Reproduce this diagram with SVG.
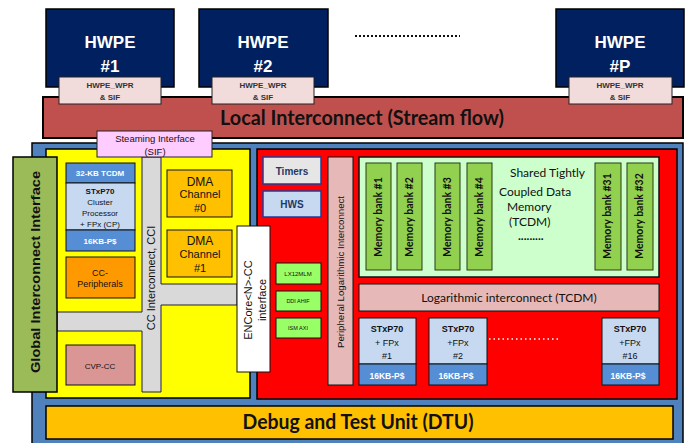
<svg xmlns="http://www.w3.org/2000/svg" width="690" height="443" viewBox="0 0 690 443">
  <defs>
    <style>
      .bd { stroke: #000; stroke-width: 1.5; }
      .thin { stroke: #1a1a1a; stroke-width: 1; }
      .t { font-family: "Liberation Sans", Arial, sans-serif; text-anchor: middle; }
      .c { font-family: Lato, "Liberation Sans", sans-serif; text-anchor: middle; }
      .b { font-weight: bold; }
      .w { fill: #fff; }
      .dk { fill: #111; }
      .nv { fill: #1F3864; }
      .bank { fill: #92D050; stroke: #2a3a10; stroke-width: 1; }
      .bankt { font-family: Lato, "Liberation Sans", sans-serif; font-weight: bold; font-size: 10.5px; fill: #111; text-anchor: middle; }
      .pe { fill: #C6D9F1; stroke: #111; stroke-width: 1; }
      .pc { fill: #558ED5; stroke: #111; stroke-width: 1; }
      .wpr { fill: #F2DCDB; stroke: #222; stroke-width: 1; }
      .hwpe { fill: #002060; stroke: #000; stroke-width: 1.5; }
      .sg { fill: #99FF66; stroke: #111; stroke-width: 1; }
      .per { fill: #1F3D99; }
    </style>
  </defs>

  <!-- hardware processing engines -->
  <g id="hwpe1">
    <rect class="hwpe" x="46" y="9" width="128" height="78"/>
    <text class="t b w" x="110" y="48" font-size="17">HWPE</text>
    <text class="t b w" x="110" y="72" font-size="17">#1</text>
  </g>
  <g id="hwpe2">
    <rect class="hwpe" x="199" y="9" width="129" height="78"/>
    <text class="t b w" x="263" y="48" font-size="17">HWPE</text>
    <text class="t b w" x="263" y="72" font-size="17">#2</text>
  </g>
  <g id="hwpe-dots">
    <line x1="355" y1="36" x2="460" y2="36" stroke="#111" stroke-width="2" stroke-dasharray="2,2"/>
  </g>
  <g id="hwpep">
    <rect class="hwpe" x="556" y="9" width="128" height="78"/>
    <text class="t b w" x="620" y="48" font-size="17">HWPE</text>
    <text class="t b w" x="620" y="72" font-size="17">#P</text>
  </g>

  <!-- local interconnect bar -->
  <g id="local-interconnect">
    <rect x="43" y="97" width="640" height="41" fill="#C0504D" stroke="#000" stroke-width="2"/>
    <text class="c b dk" x="362" y="125" font-size="20" textLength="284" lengthAdjust="spacingAndGlyphs">Local Interconnect (Stream flow)</text>
  </g>

  <!-- wrappers sit over the bar -->
  <g id="wpr1">
    <rect class="wpr" x="59" y="77" width="102" height="27"/>
    <text class="t b" x="110" y="88" font-size="8" fill="#333">HWPE_WPR</text>
    <text class="t b" x="110" y="100" font-size="8" fill="#333">&amp; SIF</text>
  </g>
  <g id="wpr2">
    <rect class="wpr" x="212" y="77" width="102" height="27"/>
    <text class="t b" x="263" y="88" font-size="8" fill="#333">HWPE_WPR</text>
    <text class="t b" x="263" y="100" font-size="8" fill="#333">&amp; SIF</text>
  </g>
  <g id="wprp">
    <rect class="wpr" x="569" y="77" width="103" height="27"/>
    <text class="t b" x="620" y="88" font-size="8" fill="#333">HWPE_WPR</text>
    <text class="t b" x="620" y="100" font-size="8" fill="#333">&amp; SIF</text>
  </g>

  <!-- cluster enclosure -->
  <g id="cluster">
    <rect x="32" y="143" width="651" height="304" fill="#4F81BD" stroke="#000" stroke-width="1.5"/>
  </g>

  <!-- control core area -->
  <g id="cc-area">
    <rect x="46" y="149" width="204" height="249" fill="#FFFF00" class="bd"/>
  </g>

  <!-- CC interconnect -->
  <g id="cc-interconnect">
    <path d="M142,157 H161 V284 H237 V305 H161 V392 H142 V331 H57 V312 H142 Z" fill="#D9D9D9" stroke="#222" stroke-width="1"/>
    <text class="t dk" x="0" y="0" font-size="11" transform="translate(155,278) rotate(-90)">CC Interconnect, CCI</text>
  </g>

  <g id="global-interconnect">
    <rect x="13" y="157" width="44" height="235" fill="#9BBB59" class="bd"/>
    <text class="t b dk" x="0" y="0" font-size="13" transform="translate(40,272) rotate(-90)" textLength="202" lengthAdjust="spacingAndGlyphs">Global Interconnect  Interface</text>
  </g>

  <g id="cp">
    <rect class="pc" x="66" y="163" width="69" height="20"/>
    <text class="t b w" x="100" y="176" font-size="8">32-KB TCDM</text>
    <rect class="pe" x="66" y="183" width="69" height="47"/>
    <text class="t b dk" x="100" y="194" font-size="8">STxP70</text>
    <text class="t dk" x="100" y="205" font-size="8">Cluster</text>
    <text class="t dk" x="100" y="216" font-size="8">Processor</text>
    <text class="t dk" x="100" y="227" font-size="8">+ FPx (CP)</text>
    <rect class="pc" x="66" y="230" width="69" height="21"/>
    <text class="t b w" x="100" y="244" font-size="8">16KB-P$</text>
  </g>

  <g id="cc-peripherals">
    <rect x="66" y="257" width="69" height="41" fill="#FF9900" stroke="#111" stroke-width="1"/>
    <text class="t dk" x="100" y="276" font-size="9">CC-</text>
    <text class="t dk" x="100" y="287" font-size="9">Peripherals</text>
  </g>

  <g id="cvp-cc">
    <rect x="66" y="345" width="69" height="40" fill="#D99694" stroke="#111" stroke-width="1"/>
    <text class="t dk" x="100" y="369" font-size="8">CVP-CC</text>
  </g>

  <g id="dma0">
    <rect x="167" y="170" width="65" height="47" fill="#FFC000" stroke="#111" stroke-width="1"/>
    <text class="t dk" x="200" y="186" font-size="12">DMA</text>
    <text class="t dk" x="200" y="198" font-size="11">Channel</text>
    <text class="t dk" x="200" y="212" font-size="11">#0</text>
  </g>
  <g id="dma1">
    <rect x="167" y="230" width="65" height="47" fill="#FFC000" stroke="#111" stroke-width="1"/>
    <text class="t dk" x="200" y="245" font-size="12">DMA</text>
    <text class="t dk" x="200" y="258" font-size="11">Channel</text>
    <text class="t dk" x="200" y="272" font-size="11">#1</text>
  </g>

  <!-- processing element area -->
  <g id="pe-area">
    <rect x="257" y="149" width="420" height="250" fill="#FF0000" class="bd"/>
  </g>

  <g id="encore-if">
    <rect x="237" y="226" width="33" height="146" fill="#fff" stroke="#111" stroke-width="1"/>
    <text class="t dk" x="0" y="0" font-size="11" transform="translate(252,300) rotate(-90)">ENCore&lt;N&gt;-CC</text>
    <text class="t dk" x="0" y="0" font-size="11" transform="translate(266,300) rotate(-90)">interface</text>
  </g>

  <g id="timers">
    <rect x="263" y="157" width="58" height="27" fill="#E6E6E6" stroke="#1F3D99" stroke-width="1.5"/>
    <text class="t b nv" x="292" y="175" font-size="10">Timers</text>
  </g>
  <g id="hws">
    <rect x="263" y="191" width="58" height="26" fill="#C6D9F1" stroke="#1F3D99" stroke-width="1.5"/>
    <text class="t b nv" x="292" y="208" font-size="10">HWS</text>
  </g>

  <g id="per-lx12">
    <rect class="sg" x="276" y="263" width="45" height="21"/>
    <text class="t dk" x="298" y="276" font-size="6">LX12MLM</text>
  </g>
  <g id="per-ddi">
    <rect class="sg" x="276" y="291" width="45" height="20"/>
    <text class="t dk" x="298" y="303" font-size="5.5">DDI AHIF</text>
  </g>
  <g id="per-ism">
    <rect class="sg" x="276" y="318" width="45" height="20"/>
    <text class="t dk" x="298" y="330" font-size="5.5">ISM AXI</text>
  </g>

  <g id="peripheral-interconnect">
    <rect x="328" y="157" width="25" height="228" fill="#E6B9B8" stroke="#111" stroke-width="1"/>
    <text class="t dk" x="0" y="0" font-size="9.5" transform="translate(344,272) rotate(-90)" textLength="152" lengthAdjust="spacingAndGlyphs">Peripheral Logarithmic Interconnect</text>
  </g>

  <g id="tcdm">
    <rect x="359" y="157" width="300" height="120" fill="#CCFFCC" stroke="#111" stroke-width="1.5"/>
    <text font-family="Lato, 'Liberation Sans', sans-serif" font-size="12" fill="#111" x="510" y="177">Shared Tightly</text>
    <text font-family="Lato, 'Liberation Sans', sans-serif" font-size="12" fill="#111" x="499" y="196">Coupled Data</text>
    <text font-family="Lato, 'Liberation Sans', sans-serif" font-size="12" fill="#111" x="507" y="211">Memory</text>
    <text font-family="Lato, 'Liberation Sans', sans-serif" font-size="12" fill="#111" x="509" y="226">(TCDM)</text>
    <text font-family="Lato, 'Liberation Sans', sans-serif" font-size="12" font-weight="bold" fill="#111" x="518" y="240">.........</text>
  </g>

  <g id="bank1">
    <rect class="bank" x="366" y="163" width="25" height="107"/>
    <text class="bankt" transform="translate(382,217) rotate(-90)">Memory bank #1</text>
  </g>
  <g id="bank2">
    <rect class="bank" x="397" y="163" width="25" height="107"/>
    <text class="bankt" transform="translate(413,217) rotate(-90)">Memory bank #2</text>
  </g>
  <g id="bank3">
    <rect class="bank" x="435" y="163" width="25" height="107"/>
    <text class="bankt" transform="translate(451,217) rotate(-90)">Memory bank #3</text>
  </g>
  <g id="bank4">
    <rect class="bank" x="467" y="163" width="25" height="107"/>
    <text class="bankt" transform="translate(483,217) rotate(-90)">Memory bank #4</text>
  </g>
  <g id="bank31">
    <rect class="bank" x="595" y="163" width="26" height="107"/>
    <text class="bankt" transform="translate(611,216) rotate(-90)">Memory bank #31</text>
  </g>
  <g id="bank32">
    <rect class="bank" x="627" y="163" width="26" height="107"/>
    <text class="bankt" transform="translate(643,216) rotate(-90)">Memory bank #32</text>
  </g>

  <g id="log-interconnect">
    <rect x="359" y="284" width="300" height="27" fill="#E6B9B8" stroke="#111" stroke-width="1"/>
    <text class="c dk" x="509" y="302" font-size="12">Logarithmic interconnect (TCDM)</text>
  </g>

  <g id="pe1">
    <rect class="pe" x="359" y="318" width="57" height="46"/>
    <text class="t b dk" x="387" y="332" font-size="9">STxP70</text>
    <text class="t dk" x="387" y="346" font-size="9">+ FPx</text>
    <text class="t dk" x="387" y="359" font-size="9">#1</text>
    <rect class="pc" x="359" y="364" width="57" height="21"/>
    <text class="t b w" x="387" y="379" font-size="8.5">16KB-P$</text>
  </g>
  <g id="pe2">
    <rect class="pe" x="429" y="318" width="58" height="46"/>
    <text class="t b dk" x="458" y="332" font-size="9">STxP70</text>
    <text class="t dk" x="458" y="346" font-size="9">+FPx</text>
    <text class="t dk" x="458" y="359" font-size="9">#2</text>
    <rect class="pc" x="429" y="364" width="58" height="21"/>
    <text class="t b w" x="456" y="379" font-size="8.5">16KB-P$</text>
  </g>
  <g id="pe-dots">
    <line x1="489" y1="339" x2="558" y2="339" stroke="#fff" stroke-width="1.5" stroke-dasharray="1.5,3"/>
  </g>
  <g id="pe16">
    <rect class="pe" x="602" y="318" width="57" height="46"/>
    <text class="t b dk" x="630" y="332" font-size="9">STxP70</text>
    <text class="t dk" x="630" y="346" font-size="9">+FPx</text>
    <text class="t dk" x="630" y="359" font-size="9">#16</text>
    <rect class="pc" x="602" y="364" width="57" height="21"/>
    <text class="t b w" x="628" y="379" font-size="8.5">16KB-P$</text>
  </g>

  <g id="dtu">
    <rect x="46" y="406" width="627" height="33" fill="#FFC000" stroke="#000" stroke-width="1.5"/>
    <text class="c b dk" x="358" y="429" font-size="20" textLength="231" lengthAdjust="spacingAndGlyphs">Debug and Test Unit (DTU)</text>
  </g>

  <!-- streaming interface straddles bar and cluster -->
  <g id="sif">
    <rect x="97" y="131" width="115" height="26" fill="#FFCCFF" stroke="#222" stroke-width="1"/>
    <text class="t dk" x="155" y="142" font-size="9.5">Steaming Interface</text>
    <text class="t dk" x="155" y="155" font-size="9.5">(SIF)</text>
  </g>

  <g id="connectors"></g>
</svg>
